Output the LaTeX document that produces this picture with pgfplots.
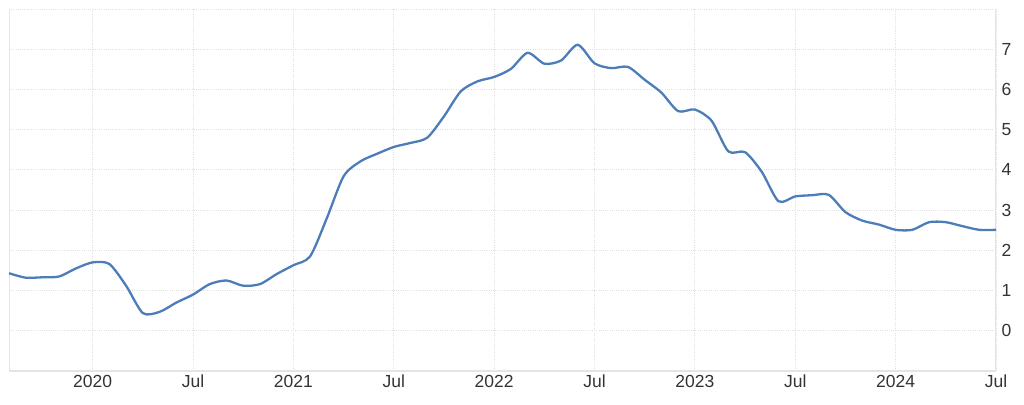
\documentclass[border=0pt]{standalone}
\usepackage{fontspec}
\setmainfont{Liberation Sans}
\usepackage{pgfplots}
\pgfplotsset{compat=1.18}
\definecolor{linecol}{HTML}{4C7DB9}
\definecolor{gridcol}{HTML}{E0E0E0}
\definecolor{bordcol}{HTML}{E4E4E4}
\definecolor{txt}{HTML}{333333}
\begin{document}
\begin{tikzpicture}
\useasboundingbox (-9pt,-33pt) rectangle (1015pt,371pt);
\begin{axis}[
  at={(0pt,0pt)}, anchor=south west,
  scale only axis, width=987pt, height=362pt,
  xmin=-5, xmax=54, ymin=-1, ymax=8,
  xtick={0,6,12,18,24,30,36,42,48,54},
  xticklabels={2020,Jul,2021,Jul,2022,Jul,2023,Jul,2024,Jul},
  ytick={0,1,2,3,4,5,6,7,8},
  yticklabels={0,1,2,3,4,5,6,7,{}},
  yticklabel pos=right,
  grid=major,
  major grid style={gridcol, line width=0.8pt, dash pattern=on 1pt off 1.2pt},
  axis line style={draw=none},
  major tick length=0pt,
  tick label style={font=\fontsize{17.5}{20}\selectfont, text=txt},
  xticklabel style={anchor=north, inner sep=0pt, yshift=-4pt},
  yticklabel style={anchor=west, inner sep=0pt, xshift=5.5pt},
  /pgf/number format/assume math mode=true,
]
\draw[bordcol, line width=0.8pt] (rel axis cs:0,0) -- (rel axis cs:0,1);
\draw[bordcol, line width=1.2pt] (rel axis cs:1,0) -- (rel axis cs:1,1);
\draw[bordcol, line width=1.8pt] (rel axis cs:0,0) -- (rel axis cs:1,0);
\addplot[linecol, line width=2.3pt, smooth, tension=0.45] table {
x y
-5 1.43
-4 1.32
-3 1.33
-2 1.35
-1 1.55
0 1.70
1 1.66
2 1.12
3 0.44
4 0.47
5 0.70
6 0.90
7 1.16
8 1.25
9 1.12
10 1.16
11 1.41
12 1.63
13 1.85
14 2.80
15 3.84
16 4.21
17 4.40
18 4.57
19 4.67
20 4.80
21 5.33
22 5.95
23 6.20
24 6.31
25 6.51
26 6.91
27 6.64
28 6.72
29 7.11
30 6.65
31 6.53
32 6.56
33 6.24
34 5.92
35 5.46
36 5.50
37 5.22
38 4.46
39 4.44
40 3.95
41 3.22
42 3.34
43 3.37
44 3.38
45 2.95
46 2.74
47 2.64
48 2.51
49 2.51
50 2.70
51 2.70
52 2.60
53 2.51
54 2.51
};
\end{axis}
\end{tikzpicture}
\end{document}
